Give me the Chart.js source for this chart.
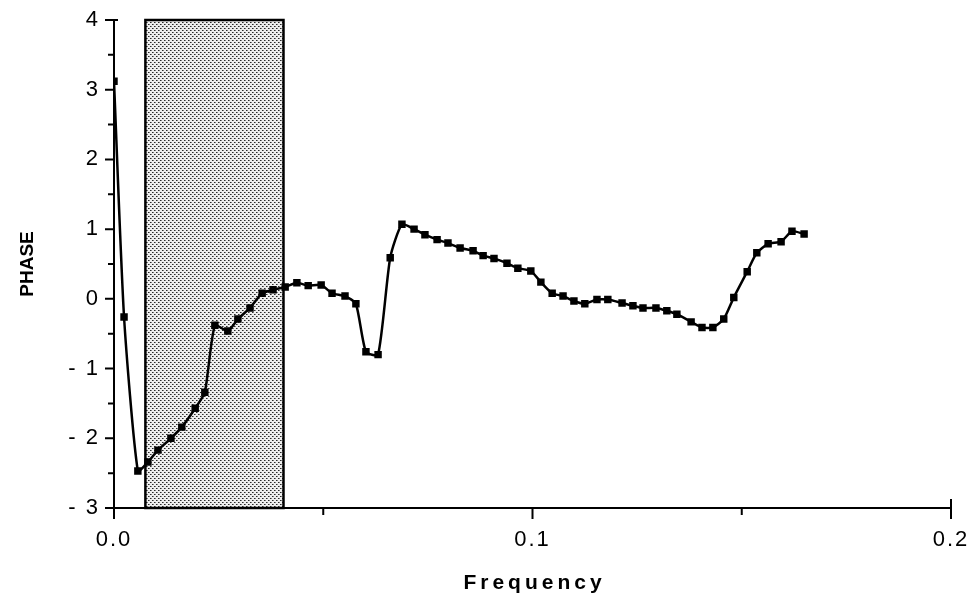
<!DOCTYPE html>
<html>
<head>
<meta charset="utf-8">
<script src="https://cdn.jsdelivr.net/npm/chart.js@4.4.1/dist/chart.umd.min.js"></script>
<style>
  html, body { margin: 0; padding: 0; background: #fff; }
  #wrap { width: 968px; height: 607px; }
</style>
</head>
<body>
<div id="wrap"><canvas id="phaseChart" width="968" height="607"></canvas></div>
<script>
// frequency of each point
const frequency = [
    0.0000, 0.0024, 0.0057, 0.0081, 0.0105, 0.0136, 0.0162, 0.0194, 0.0217, 0.0241,
    0.0272, 0.0296, 0.0325, 0.0354, 0.0380, 0.0409, 0.0437, 0.0464, 0.0495, 0.0521,
    0.0552, 0.0578, 0.0602, 0.0631, 0.0660, 0.0688, 0.0717, 0.0743, 0.0772, 0.0798,
    0.0827, 0.0858, 0.0882, 0.0908, 0.0939, 0.0965, 0.0996, 0.1020, 0.1047, 0.1073,
    0.1099, 0.1125, 0.1154, 0.1180, 0.1214, 0.1240, 0.1264, 0.1295, 0.1321, 0.1345,
    0.1379, 0.1405, 0.1431, 0.1457, 0.1481, 0.1513, 0.1536, 0.1563, 0.1594, 0.1620,
    0.1649
];
const phase = [
    3.12, -0.26, -2.47, -2.34, -2.17, -2.00, -1.84, -1.57, -1.34, -0.38,
    -0.46, -0.29, -0.13, 0.08, 0.13, 0.17, 0.23, 0.19, 0.20, 0.08,
    0.04, -0.07, -0.76, -0.80, 0.59, 1.07, 1.00, 0.92, 0.85, 0.80,
    0.73, 0.69, 0.62, 0.58, 0.51, 0.44, 0.40, 0.24, 0.08, 0.04,
    -0.03, -0.07, -0.01, -0.01, -0.06, -0.10, -0.13, -0.13, -0.17, -0.22,
    -0.33, -0.41, -0.41, -0.29, 0.02, 0.39, 0.66, 0.79, 0.82, 0.97,
    0.93
];
// shaded frequency band
const bandFreq = [0.0075, 0.0405];
const xTickLabels = [0, 0.1, 0.2];
const xTitle = "Frequency";
const yTitle = "PHASE";

const points = frequency.map((f, i) => ({ x: f, y: phase[i] }));

// stippled fill for the band
function stipple() {
    const c = document.createElement("canvas");
    c.width = 4; c.height = 4;
    const g = c.getContext("2d");
    g.fillStyle = "#eeeeee";
    g.fillRect(0, 0, 4, 4);
    g.fillStyle = "#2a2a2a";
    g.fillRect(0, 0, 1, 1);
    g.fillRect(2, 2, 1, 1);
    g.fillStyle = "#808080";
    g.fillRect(1, 0, 1, 1);
    g.fillRect(3, 2, 1, 1);
    return g.createPattern(c, "repeat");
}

const bandPlugin = {
    id: "band",
    beforeDraw(chart) {
        chart.ctx.letterSpacing = "2px";
    },
    beforeDatasetsDraw(chart) {
        const { ctx, scales: { x, y } } = chart;
        const x0 = x.getPixelForValue(bandFreq[0]);
        const x1 = x.getPixelForValue(bandFreq[1]);
        const y0 = y.getPixelForValue(y.max);
        const y1 = y.getPixelForValue(y.min);
        ctx.save();
        ctx.fillStyle = stipple();
        ctx.fillRect(x0, y0, x1 - x0, y1 - y0);
        ctx.strokeStyle = "#000";
        ctx.lineWidth = 2.5;
        ctx.strokeRect(x0, y0, x1 - x0, y1 - y0);
        ctx.restore();
    }
};

// tick marks of two lengths and the axis titles
const tickPlugin = {
    id: "tickMarks",
    afterDraw(chart) {
        const { ctx, chartArea, scales: { x, y } } = chart;
        const left = x.left, bottom = y.bottom;
        ctx.save();
        ctx.strokeStyle = "#000";
        ctx.lineWidth = 2;
        ctx.beginPath();
        y.ticks.forEach(t => {
            const py = y.getPixelForValue(t.value);
            const major = Number.isInteger(t.value);
            ctx.moveTo(left - (major ? 9 : 6), py);
            ctx.lineTo(left + (t.value === y.max ? 4 : 0), py);
        });
        x.ticks.forEach(t => {
            const px = x.getPixelForValue(t.value);
            const major = Math.abs(t.value * 10 - Math.round(t.value * 10)) < 1e-6;
            ctx.moveTo(px, bottom + (major ? 11 : 7));
            ctx.lineTo(px, bottom - (t.value === x.max ? 9 : 0));
        });
        ctx.stroke();

        ctx.fillStyle = "#000";
        ctx.textAlign = "center";
        ctx.textBaseline = "middle";
        ctx.font = "bold 21px 'Liberation Sans'";
        ctx.letterSpacing = "4px";
        ctx.fillText(xTitle, (chartArea.left + chartArea.right) / 2 + 2, 583);
        ctx.translate(28, (chartArea.top + chartArea.bottom) / 2);
        ctx.rotate(-Math.PI / 2);
        ctx.font = "bold 19px 'Liberation Sans'";
        ctx.letterSpacing = "0px";
        ctx.fillText(yTitle, 0, 0);
        ctx.restore();
    }
};

new Chart(document.getElementById("phaseChart"), {
    type: "line",
    data: {
        datasets: [{
            label: "PHASE",
            data: points,
            borderColor: "#000",
            backgroundColor: "#000",
            borderWidth: 2.5,
            pointStyle: "rect",
            pointRadius: 3.5,
            pointHoverRadius: 3.5,
            tension: 0.2,
            fill: false
        }]
    },
    options: {
        responsive: false,
        animation: false,
        layout: { padding: { top: 20, right: 17, left: 0, bottom: 0 } },
        plugins: {
            legend: { display: false },
            tooltip: { enabled: false }
        },
        scales: {
            x: {
                type: "linear",
                min: 0,
                max: 0.2,
                grid: { display: false },
                border: { display: true, color: "#000", width: 2 },
                ticks: {
                    stepSize: 0.05,
                    autoSkip: false,
                    maxRotation: 0,
                    padding: 11,
                    color: "#000",
                    font: { family: "Liberation Sans", size: 22 },
                    callback: v => xTickLabels.some(t => Math.abs(t - v) < 1e-6) ? v.toFixed(1) : ""
                },
                afterFit: s => {
                    s.height = 99;
                    s.paddingLeft = 0;
                    s.paddingRight = 0;
                }
            },
            y: {
                min: -3,
                max: 4,
                grid: { display: false },
                border: { display: true, color: "#000", width: 2 },
                ticks: {
                    stepSize: 0.5,
                    autoSkip: false,
                    padding: 6,
                    color: "#000",
                    font: { family: "Liberation Sans", size: 22 },
                    callback: v => Number.isInteger(v) ? (v < 0 ? "- " + Math.abs(v) : String(v)) : ""
                },
                afterFit: s => {
                    s.width = 114;
                    s.paddingTop = 0;
                    s.paddingBottom = 0;
                }
            }
        }
    },
    plugins: [bandPlugin, tickPlugin]
});
</script>
</body>
</html>
